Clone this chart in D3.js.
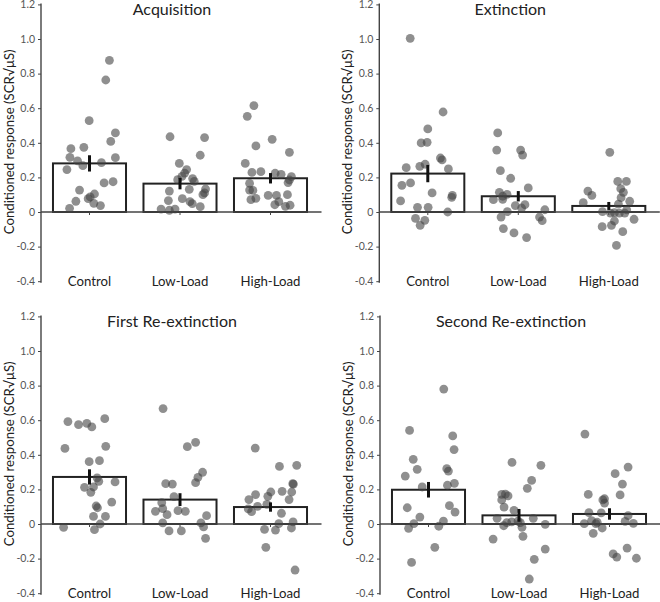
<!DOCTYPE html>
<html>
<head>
<meta charset="utf-8">
<script src="https://cdn.jsdelivr.net/npm/d3@7"></script>
<style>
  html, body { margin: 0; padding: 0; background: #fff; }
  svg { display: block; font-family: Lato, "Open Sans", sans-serif; }
</style>
</head>
<body>
<svg id="chart" width="660" height="602"></svg>
<script>
// ---------- DATA ----------
const categories = ["Control", "Low-Load", "High-Load"];
const panelTitles = ["Acquisition", "Extinction", "First Re-extinction", "Second Re-extinction"];
const yTicks = [-0.4, -0.2, 0, 0.2, 0.4, 0.6, 0.8, 1.0, 1.2];
const yTickLabels = ["-0.4", "-0.2", "0", "0.2", "0.4", "0.6", "0.8", "1.0", "1.2"];
const yLabel = "Conditioned response (SCR\u221A\u03BCS)";

// group means and standard errors, one array per panel
const acqMeans = [0.281, 0.164, 0.195];
const acqErrors = [0.047, 0.033, 0.030];
const extMeans = [0.222, 0.091, 0.035];
const extErrors = [0.050, 0.030, 0.023];
const reext1Means = [0.272, 0.141, 0.098];
const reext1Errors = [0.044, 0.037, 0.027];
const reext2Means = [0.198, 0.050, 0.058];
const reext2Errors = [0.045, 0.037, 0.033];

// individual responses (jitter in units of the jitter scale domain [-110, 110])
const acqControl = [0.877,0.763,0.528,0.457,0.366,0.374,0.408,0.316,0.295,0.268,0.285,0.314,0.245,0.168,0.175,0.127,0.104,0.087,0.077,0.062,0.05,0.037,0.021];
const acqControlJit = [60,49,-1,78,-56,-17,64,-59,-36,-20,36,78,-68,44,71,-30,15,2,-4,-41,13,33,-60];
const acqLow = [0.435,0.430,0.328,0.281,0.245,0.225,0.206,0.193,0.187,0.177,0.133,0.131,0.121,0.110,0.100,0.066,0.077,0.060,0.048,0.031,0.017,0.017,0.010];
const acqLowJit = [-30,74,61,-2,20,14,6,38,-7,43,77,28,-32,74,69,-35,7,30,37,61,-57,-15,-32];
const acqHigh = [0.615,0.553,0.420,0.382,0.345,0.281,0.233,0.229,0.224,0.218,0.204,0.166,0.170,0.185,0.127,0.125,0.096,0.096,0.100,0.071,0.079,0.060,0.042,0.033,0.039];
const acqHighJit = [-50,-70,5,-44,57,-76,-29,-56,14,32,63,-63,53,57,-63,-53,-7,18,51,-59,-44,25,13,45,59];

const extControl = [1.004,0.578,0.480,0.399,0.403,0.312,0.301,0.276,0.264,0.256,0.249,0.168,0.154,0.110,0.096,0.085,0.064,0.027,0.027,0.0,-0.037,-0.048,-0.077];
const extControlJit = [-53,46,0,-20,-2,38,43,-8,-24,-65,62,-52,-78,13,74,72,-82,-31,1,60,-37,-9,-23];
const extLow = [0.457,0.358,0.358,0.329,0.239,0.195,0.139,0.114,0.102,0.091,0.071,0.073,0.037,0.042,0.023,0.002,0.013,-0.029,-0.050,-0.029,-0.096,-0.121,-0.148];
const extLowJit = [-62,-65,7,13,-54,-23,30,-57,-34,-47,-75,-47,-9,20,10,-33,80,64,72,-52,-45,-13,25];
const extHigh = [0.345,0.177,0.177,0.121,0.096,0.135,0.114,0.083,0.054,0.062,0.046,0.012,0.002,-0.006,-0.004,-0.006,-0.006,-0.042,-0.052,-0.077,-0.085,-0.114,-0.193];
const extHighJit = [3,27,53,-63,-51,36,44,37,-77,63,29,54,-19,5,17,32,48,76,17,8,-20,42,23];

const reext1Control = [0.609,0.592,0.582,0.574,0.561,0.437,0.449,0.360,0.366,0.266,0.247,0.243,0.212,0.214,0.183,0.127,0.104,0.094,0.044,0.044,0.0,-0.019,-0.033];
const reext1ControlJit = [46,-65,-8,-33,7,-74,49,-1,30,23,28,77,-15,12,4,67,20,24,12,48,32,-78,15];
const reext1Low = [0.667,0.472,0.447,0.299,0.270,0.239,0.233,0.231,0.158,0.123,0.073,0.089,0.077,0.073,0.054,0.048,0.006,0.006,-0.017,-0.040,-0.040,-0.083];
const reext1LowJit = [-51,47,22,68,54,47,-43,-23,-18,-55,-74,-52,-6,16,-39,80,-52,63,71,-33,4,77];
const reext1High = [0.439,0.339,0.333,0.233,0.231,0.189,0.185,0.185,0.170,0.160,0.141,0.141,0.102,0.114,0.087,0.071,0.062,0.002,0.012,-0.023,-0.031,-0.035,-0.135,-0.266];
const reext1HighJit = [-46,79,27,67,69,35,64,1,-45,-8,-65,56,-39,-11,-67,-57,33,25,68,63,-18,15,-14,74];

const reext2Control = [0.780,0.541,0.509,0.430,0.374,0.316,0.320,0.306,0.277,0.235,0.224,0.214,0.094,0.106,0.069,0.040,0.017,0.002,-0.013,-0.025,-0.135,-0.222];
const reext2ControlJit = [46,-57,73,77,-46,-34,55,60,-70,78,57,-19,-64,63,80,-26,45,-44,31,-60,19,-51];
const reext2Low = [0.356,0.339,0.252,0.206,0.171,0.173,0.162,0.139,0.098,0.079,0.033,0.033,0.008,0.012,0.017,0.008,-0.002,-0.010,-0.019,-0.087,-0.071,-0.145,-0.204,-0.318];
const reext2LowJit = [-21,66,38,25,-52,-41,-33,-52,-45,-15,-66,43,-37,-22,-3,4,79,-46,9,-78,12,79,46,31];
const reext2High = [0.520,0.329,0.291,0.231,0.171,0.168,0.146,0.139,0.121,0.066,0.064,0.048,0.019,0.015,0.002,0.002,0.010,0.004,-0.023,-0.054,-0.139,-0.173,-0.191,-0.198];
const reext2HighJit = [-74,56,17,39,-64,32,-15,-20,-15,-62,-25,56,-54,47,-76,-41,-37,72,-22,-49,53,11,22,81];

// ---------- TABLE built from arrays ----------
const panels = [
  { title: panelTitles[0], means: acqMeans, errors: acqErrors,
    groups: [[acqControl, acqControlJit], [acqLow, acqLowJit], [acqHigh, acqHighJit]] },
  { title: panelTitles[1], means: extMeans, errors: extErrors,
    groups: [[extControl, extControlJit], [extLow, extLowJit], [extHigh, extHighJit]] },
  { title: panelTitles[2], means: reext1Means, errors: reext1Errors,
    groups: [[reext1Control, reext1ControlJit], [reext1Low, reext1LowJit], [reext1High, reext1HighJit]] },
  { title: panelTitles[3], means: reext2Means, errors: reext2Errors,
    groups: [[reext2Control, reext2ControlJit], [reext2Low, reext2LowJit], [reext2High, reext2HighJit]] }
];

// ---------- LAYOUT ----------
const layout = [
  { ax: 41, top: 4.4 },
  { ax: 379.3, top: 4.4 },
  { ax: 41, top: 316.4 },
  { ax: 380, top: 316.4 }
];
const plotH = 276.8;       // 1.6 units * 173 px
const xAxisLen = 280.5;

const svg = d3.select("#chart");

panels.forEach((p, i) => {
  const L = layout[i];
  const g = svg.append("g").attr("transform", `translate(${L.ax},${L.top})`);

  const y = d3.scaleLinear().domain([-0.4, 1.2]).range([plotH, 0]);
  const x = d3.scaleBand().domain(categories)
    .range([3.25, 274.75]).paddingInner(0.193).paddingOuter(0.0965);
  const jit = d3.scaleLinear().domain([-110, 110]).range([-x.bandwidth() / 2, x.bandwidth() / 2]);

  // y axis
  const yAxis = d3.axisLeft(y).tickValues(yTicks).tickSize(3)
    .tickFormat((d, k) => yTickLabels[k]);
  const ya = g.append("g").call(yAxis);
  ya.select(".domain").attr("stroke", "#444").attr("stroke-width", 1.4)
    .attr("d", `M0,${y(1.2) - 1}V${y(-0.4) + 1.5}`);
  ya.selectAll(".tick line").attr("stroke", "#444").attr("stroke-width", 1);
  ya.selectAll(".tick text").attr("fill", "#555").attr("font-size", 10.5)
    .attr("x", -6).attr("font-family", "Lato, sans-serif");

  // y label
  g.append("text")
    .attr("transform", `translate(${-27},${plotH / 2 - 1}) rotate(-90)`)
    .attr("text-anchor", "middle")
    .attr("font-size", 13.2)
    .attr("fill", "#222")
    .text(yLabel);

  // bars
  g.selectAll("rect.bar").data(categories).join("rect")
    .attr("class", "bar")
    .attr("x", c => x(c))
    .attr("width", x.bandwidth())
    .attr("y", (c, k) => y(p.means[k]))
    .attr("height", (c, k) => y(0) - y(p.means[k]))
    .attr("fill", "#fff")
    .attr("stroke", "#222")
    .attr("stroke-width", 2);

  // x axis at zero
  g.append("line")
    .attr("x1", 0).attr("x2", xAxisLen)
    .attr("y1", y(0)).attr("y2", y(0))
    .attr("stroke", "#444").attr("stroke-width", 1.3);
  g.selectAll("line.xtick").data(categories).join("line")
    .attr("class", "xtick")
    .attr("x1", c => x(c) + x.bandwidth() / 2).attr("x2", c => x(c) + x.bandwidth() / 2)
    .attr("y1", y(0)).attr("y2", y(0) + 3)
    .attr("stroke", "#444").attr("stroke-width", 1);

  // points
  const pts = [];
  p.groups.forEach((grp, k) => {
    grp[0].forEach((v, j) => pts.push({ c: categories[k], v: v, j: grp[1][j] }));
  });
  g.selectAll("circle.pt").data(pts).join("circle")
    .attr("class", "pt")
    .attr("cx", d => x(d.c) + x.bandwidth() / 2 + jit(d.j))
    .attr("cy", d => y(d.v))
    .attr("r", 4.4)
    .attr("fill", "#444")
    .attr("fill-opacity", 0.6);

  // error bars
  g.selectAll("line.err").data(categories).join("line")
    .attr("class", "err")
    .attr("x1", c => x(c) + x.bandwidth() / 2).attr("x2", c => x(c) + x.bandwidth() / 2)
    .attr("y1", (c, k) => y(p.means[k] - p.errors[k]))
    .attr("y2", (c, k) => y(p.means[k] + p.errors[k]))
    .attr("stroke", "#111").attr("stroke-width", 3);

  // category labels
  g.selectAll("text.cat").data(categories).join("text")
    .attr("class", "cat")
    .attr("x", c => x(c) + x.bandwidth() / 2)
    .attr("y", y(-0.4) + 5)
    .attr("text-anchor", "middle")
    .attr("font-size", 13.2)
    .attr("fill", "#222")
    .text(c => c);

  // title
  g.append("text")
    .attr("x", 131)
    .attr("y", 10.5)
    .attr("text-anchor", "middle")
    .attr("font-size", 16)
    .attr("fill", "#222")
    .text(p.title);
});
</script>
</body>
</html>
